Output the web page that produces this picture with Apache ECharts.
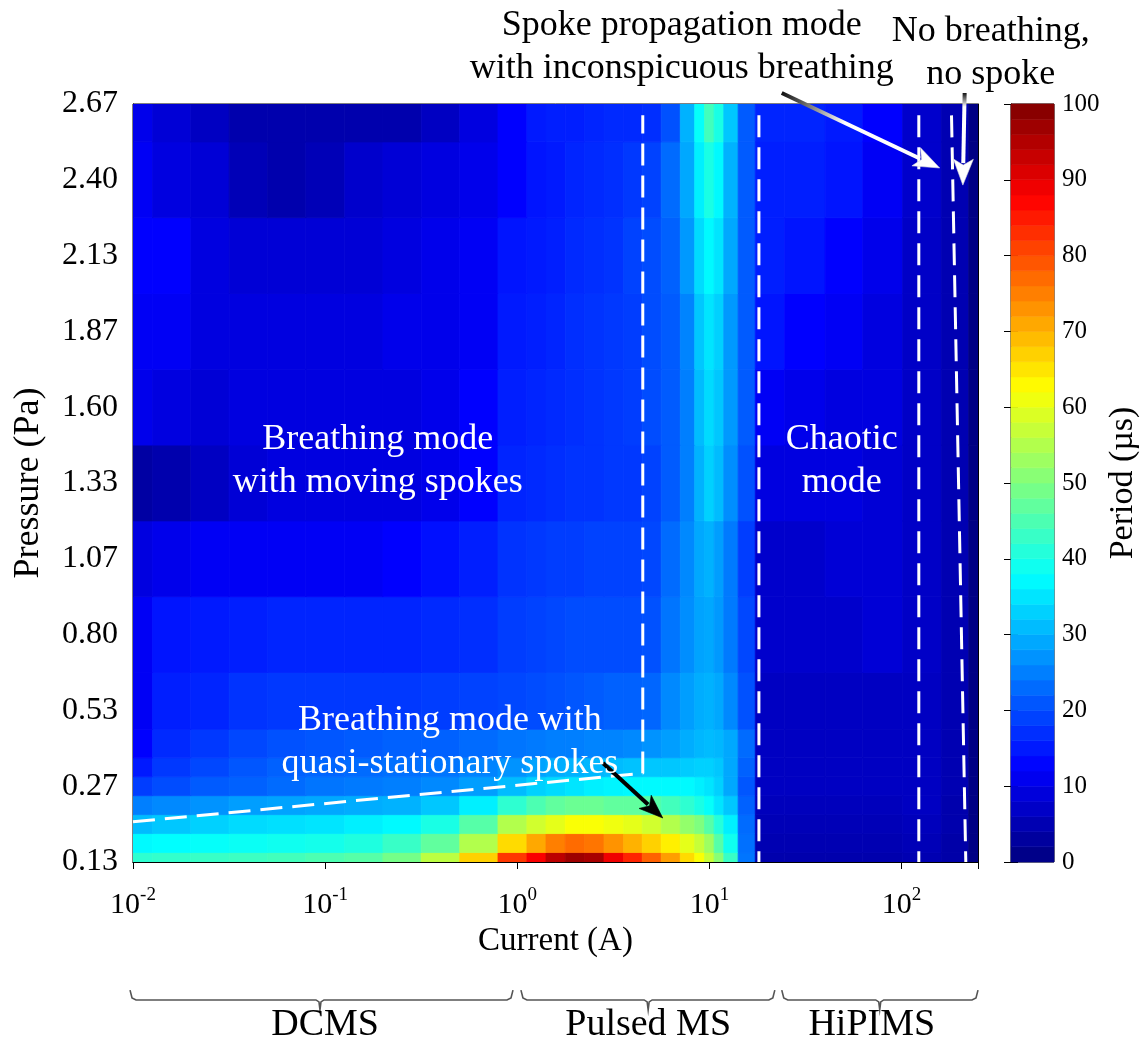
<!DOCTYPE html>
<html><head><meta charset="utf-8">
<script src="https://cdn.jsdelivr.net/npm/echarts@6/dist/echarts.min.js"></script>
<style>html,body{margin:0;padding:0;background:#fff}#c{width:1148px;height:1042px}</style>
</head><body><div id="c"></div>
<script>
// ---------------- data ----------------
// current sample columns (A)
const currents = [0.01, 0.016, 0.025, 0.04, 0.063, 0.1, 0.16, 0.25, 0.4, 0.63, 1, 1.26, 1.58, 2, 2.5, 3.2, 4, 5, 6.3, 7.9, 8.9, 10, 11.2, 12.6, 15.8, 19, 32, 50, 79, 130, 200, 250];
// pressure category labels (Pa), evenly spaced on the axis
const pressureLabels = ['0.13', '0.27', '0.53', '0.80', '1.07', '1.33', '1.60', '1.87', '2.13', '2.40', '2.67'];
// row positions (in pressure-category units) at which the period was read
const rowPos = [0, 0.25, 0.5, 0.75, 1, 1.25, 1.5, 2, 3, 4, 5, 6, 7, 8, 9, 10];
// period (µs) read per row, one value per current column
const period_p000 = [42, 42.5, 43, 43.5, 44, 45, 46, 49, 56, 67, 82, 88, 94, 97, 96, 89, 84, 78, 72, 66, 62, 57, 51, 43, 24, 4.5, 4.5, 4.5, 4.5, 5, 4, 0.5];
const period_p025 = [37, 37.5, 38, 38.5, 39, 39.5, 40.5, 43, 47, 55, 66, 71, 75, 77, 76, 73, 70, 67, 64, 60, 57, 53, 46, 39, 23.5, 5, 5, 5, 5, 5.5, 4, 0.5];
const period_p050 = [31, 32, 33, 34, 34.5, 35, 36, 37, 40, 46, 55, 58, 60, 62, 62, 61, 60, 58, 55, 52, 50, 46, 41, 36, 23, 5.5, 5.5, 5.5, 5.5, 6, 4.5, 0.5];
const period_p075 = [25, 26, 27, 28, 28.5, 29, 29.5, 30, 32, 36, 42, 45, 47, 48, 48, 47, 47, 46, 44, 42, 40, 38, 35, 32, 22, 6, 6, 6, 6, 6.5, 4.5, 0.5];
const period_p100 = [18.5, 20, 21.5, 22, 23, 24, 24.5, 25, 26, 28, 31, 33, 34, 35, 36, 36.5, 37, 37, 37, 37, 36, 35, 33, 29, 21, 6.5, 6.5, 6.5, 6.5, 6.5, 5, 0.5];
const period_p125 = [15, 18, 19.5, 21, 22, 22.5, 23, 23.5, 24, 25.5, 27, 28.5, 29.5, 30, 30.5, 31, 31.5, 32, 32, 32.5, 33, 33, 32, 29, 22, 6.5, 6.5, 6.5, 6.5, 6.5, 5, 0.5];
const period_p150 = [12.5, 16.5, 18, 19.5, 20.5, 21, 21.5, 22, 22, 23, 24, 24.5, 25, 25, 25.5, 25.5, 26, 27, 28, 29.5, 30.5, 31, 30.5, 29, 23, 6.5, 6.5, 6.5, 6.5, 6.5, 5, 0.5];
const period_p200 = [11.5, 15.5, 16, 17.5, 18, 18, 18, 18, 18.5, 19, 19.5, 20, 20.5, 21, 21.5, 22, 22, 22.5, 26, 28, 29.5, 30, 29, 26, 20.5, 6.5, 6.5, 6.5, 6.5, 6.5, 5, 0.5];
const period_p300 = [11.5, 14.5, 15, 15.5, 16, 16, 16, 16, 16.5, 17, 18.5, 19, 19.5, 20, 20, 20, 20, 20.5, 24, 26.5, 28.5, 29, 27.5, 24.5, 19.5, 7.5, 7.5, 7.5, 8.5, 7, 5, 0.5];
const period_p400 = [9.5, 10.5, 11.5, 11.5, 11.5, 11.5, 11.5, 12.5, 14, 15.5, 17.5, 18, 18.5, 18.5, 19, 19, 19, 19.5, 23, 26, 29, 30, 28, 24.5, 18.5, 7.5, 7.5, 8.5, 8.5, 7, 5, 0.5];
const period_p500 = [3.5, 4.5, 6.5, 8.5, 9.5, 9.5, 9.5, 9.5, 10.5, 12.5, 16, 16.5, 17, 17.5, 17.5, 18, 18, 19, 21.5, 25, 30, 33, 31, 26.5, 20.5, 9.5, 9.5, 9.5, 8.5, 7, 5, 0.5];
const period_p600 = [10.5, 9.5, 8.5, 9.5, 9.5, 9.5, 9.5, 9.5, 10.5, 12.5, 15.5, 16, 16.5, 17, 17.5, 18, 18.5, 20, 21.5, 25, 31, 34, 32, 27.5, 21.5, 11.5, 10.5, 9.5, 9.5, 7, 5, 0.5];
const period_p700 = [11.5, 11.5, 9.5, 9.5, 9.5, 9.5, 9.5, 10.5, 10.5, 11.5, 15, 15.5, 16, 17, 17.5, 18, 18.5, 20, 21.5, 25.5, 32, 35, 33, 27.5, 21.5, 14.5, 12.5, 11.5, 9.5, 7, 5, 0.5];
const period_p800 = [12.5, 12.5, 9.5, 8.5, 8.5, 8.5, 8.5, 9.5, 10.5, 11.5, 14.5, 15, 15.5, 16.5, 17, 17.5, 19, 20, 22, 27.5, 34, 37, 35, 29, 21.5, 15.5, 14.5, 12.5, 10.5, 7, 5, 0.5];
const period_p900 = [11.5, 9.5, 8.5, 5.5, 4.5, 5.5, 7.5, 8.5, 9.5, 10.5, 12.5, 14.5, 15, 16, 16.5, 17, 18, 19, 23, 29, 36, 40, 37, 30, 21.5, 15.5, 15.5, 14.5, 11.5, 7.5, 5, 0.5];
const period_p1000 = [10.5, 8.5, 6.5, 4.5, 4.5, 4.5, 4.5, 4.5, 6.5, 9.5, 12.5, 15, 15.5, 15.5, 16, 16.5, 16.5, 17, 20.5, 30, 38, 44, 40, 32, 21.5, 16, 16, 15, 12.5, 7.5, 5, 0.5];
const periodRows = [period_p000, period_p025, period_p050, period_p075, period_p100, period_p125, period_p150, period_p200, period_p300, period_p400, period_p500, period_p600, period_p700, period_p800, period_p900, period_p1000];
// colour-bar level boundaries (µs)
const colorbarLevels = [0, 2, 4, 6, 8, 10, 12, 14, 16, 18, 20, 22, 24, 26, 28, 30, 32, 34, 36, 38, 40, 42, 44, 46, 48, 50, 52, 54, 56, 58, 60, 62, 64, 66, 68, 70, 72, 74, 76, 78, 80, 82, 84, 86, 88, 90, 92, 94, 96, 98, 100];

// regime boundaries, [current (A), pressure-category position]
const boundaryQuasi = [[0.01, 0.53], [4.5, 1.17], [4.5, 9.85]];
const boundaryPulsed = [[18.1, 9.85], [18.1, 0]];
const boundaryHipims = [[123, 9.85], [123, 0]];
const boundaryNoSpoke = [[182, 9.85], [216, 0]];

// annotations (data-space anchors)
const textNotes = [
  { text: 'Breathing mode\nwith moving spokes', at: [0.188, 5.29], color: '#fff', size: 36 },
  { text: 'Breathing mode with\nquasi-stationary spokes', at: [0.446, 1.58], color: '#fff', size: 36 },
  { text: 'Chaotic\nmode', at: [48.9, 5.29], color: '#fff', size: 36 },
  { text: 'Spoke propagation mode\nwith inconspicuous breathing', at: [7.18, 10.75], color: '#000', size: 36 },
  { text: 'No breathing,\nno spoke', at: [291, 10.67], color: '#000', size: 36 },
  { text: 'DCMS', at: [0.1, -2.15], color: '#000', size: 38 },
  { text: 'Pulsed MS', at: [4.8, -2.15], color: '#000', size: 38 },
  { text: 'HiPIMS', at: [70, -2.15], color: '#000', size: 38 }
];
const arrows = [
  { from: [2.79, 1.306], to: [5.72, 0.58], kind: 'black' },
  { from: [23.8, 10.145], to: [158, 9.156], kind: 'white' },
  { from: [213, 10.145], to: [208.5, 8.93], kind: 'whiteV' }
];
const brackets = [
  { from: 0.00965, to: 0.95, mid: 0.094 },
  { from: 1.045, to: 21.9, mid: 4.8 },
  { from: 23.8, to: 250, mid: 77 }
];

// ---------------- chart ----------------
const X_MIN = 0.01, X_MAX = 250, Y_MIN = 0, Y_MAX = 10;
const SERIF = "'Liberation Serif', 'Times New Roman', serif";
const jet = ['#00007F', '#0000FF', '#007FFF', '#00FFFF', '#7FFF7F', '#FFFF00', '#FF7F00', '#FF0000', '#7F0000'];

const contourData = [];
periodRows.forEach((row, r) => row.forEach((v, c) => contourData.push([currents[c], rowPos[r], v, c, r])));
const cbarData = [];
for (let i = 0; i < colorbarLevels.length - 1; i++) {
  cbarData.push([0.5, colorbarLevels[i], (colorbarLevels[i] + colorbarLevels[i + 1]) / 2, colorbarLevels[i + 1]]);
}

function renderCell(params, api) {
  const c = api.value(3), r = api.value(4);
  const n = currents.length, m = rowPos.length;
  const xl = c === 0 ? X_MIN : Math.sqrt(currents[c - 1] * currents[c]);
  const xr = c === n - 1 ? X_MAX : Math.sqrt(currents[c] * currents[c + 1]);
  const yb = r === 0 ? Y_MIN : (rowPos[r - 1] + rowPos[r]) / 2;
  const yt = r === m - 1 ? Y_MAX : (rowPos[r] + rowPos[r + 1]) / 2;
  const p1 = api.coord([xl, yt]), p2 = api.coord([xr, yb]);
  const col = api.visual('color');
  return { type: 'rect', shape: { x: p1[0], y: p1[1], width: p2[0] - p1[0], height: p2[1] - p1[1] },
    style: { fill: col, stroke: col, lineWidth: 0.8 } };
}
function renderCbar(params, api) {
  const p1 = api.coord([0, api.value(3)]), p2 = api.coord([1, api.value(1)]);
  const col = api.visual('color');
  return { type: 'rect', shape: { x: p1[0], y: p1[1], width: p2[0] - p1[0], height: p2[1] - p1[1] },
    style: { fill: col, stroke: col, lineWidth: 0.6 } };
}
function renderText(params, api) {
  const t = textNotes[api.value(2)];
  const p = api.coord([api.value(0), api.value(1)]);
  return { type: 'text', x: p[0], y: p[1],
    style: { text: t.text, fill: t.color, font: t.size + 'px ' + SERIF, align: 'center', verticalAlign: 'middle', lineHeight: 43 } };
}
function renderArrow(params, api) {
  const a = arrows[api.value(4)];
  const p1 = api.coord([api.value(0), api.value(1)]), p2 = api.coord([api.value(2), api.value(3)]);
  const dx = p2[0] - p1[0], dy = p2[1] - p1[1], len = Math.hypot(dx, dy);
  const ux = dx / len, uy = dy / len, nx = -uy, ny = ux;
  const L = a.kind === 'black' ? 24 : 26, W = a.kind === 'black' ? 9 : 10;
  const bx = p2[0] - ux * L, by = p2[1] - uy * L;
  let stroke, fill;
  if (a.kind === 'black') { stroke = '#000'; fill = '#000'; }
  else {
    const cut = a.kind === 'white' ? 0.4 : 0.15;
    stroke = { type: 'linear', x: p1[0], y: p1[1], x2: p2[0], y2: p2[1], global: true,
      colorStops: [{ offset: 0, color: '#111' }, { offset: cut, color: '#ffffff' }, { offset: 1, color: '#ffffff' }] };
    fill = '#fff';
  }
  return { type: 'group', children: [
    { type: 'line', shape: { x1: p1[0], y1: p1[1], x2: bx + ux * 4, y2: by + uy * 4 }, style: { stroke: stroke, lineWidth: 4 } },
    { type: 'polygon', shape: { points: [[p2[0], p2[1]], [bx + nx * W, by + ny * W], [bx + ux * 6, by + uy * 6], [bx - nx * W, by - ny * W]] },
      style: { fill: fill, stroke: a.kind === 'black' ? '#000' : '#ddd', lineWidth: 0.6 } }
  ] };
}
function renderBracket(params, api) {
  const b = brackets[api.value(3)];
  const yTop = api.coord([b.from, -1.69])[1], yMid = api.coord([b.from, -1.82])[1], yBot = api.coord([b.from, -1.95])[1];
  const x0 = api.coord([b.from, 0])[0], x1 = api.coord([b.to, 0])[0], xc = api.coord([b.mid, 0])[0];
  return { type: 'polyline', shape: { points: [[x0, yTop], [x0 + 2, yMid - 2], [x0 + 6, yMid], [xc - 4, yMid], [xc - 1, yMid + 2], [xc, yBot], [xc + 1, yMid + 2], [xc + 4, yMid], [x1 - 6, yMid], [x1 - 2, yMid - 2], [x1, yTop]] },
    style: { stroke: '#555', lineWidth: 1.6, fill: null } };
}

const dashStyle = { color: '#fff', width: 3, type: [22, 10] };
function boundarySeries(pts) {
  return { type: 'line', xAxisIndex: 0, yAxisIndex: 0, data: pts, symbol: 'none', silent: true, z: 3,
    lineStyle: dashStyle, animation: false };
}

const chart = echarts.init(document.getElementById('c'), null, { renderer: 'canvas' });
const axisTxt = { color: '#000', fontFamily: SERIF };
chart.setOption({
  animation: false,
  backgroundColor: '#fff',
  grid: [
    { left: 133, top: 104, width: 845, height: 758, show: true, borderColor: '#000', borderWidth: 1, backgroundColor: 'transparent' },
    { left: 1011, top: 104, width: 43, height: 758, show: true, borderColor: '#000', borderWidth: 1, backgroundColor: 'transparent' }
  ],
  visualMap: { type: 'continuous', show: false, min: 0, max: 100, dimension: 2, seriesIndex: [0, 1], inRange: { color: jet } },
  xAxis: [
    { gridIndex: 0, type: 'log', logBase: 10, min: X_MIN, max: X_MAX, position: 'bottom',
      axisLine: { show: true, lineStyle: { color: '#000', width: 1 } },
      axisTick: { show: true, inside: true, length: 7, lineStyle: { color: '#000' } },
      minorTick: { show: false }, splitLine: { show: false },
      axisLabel: { margin: 24, showMaxLabel: false,
        formatter: function (v) { const e = Math.log10(v); return Math.abs(e - Math.round(e)) < 1e-6 ? '{b|10}{s|' + Math.round(e) + '}' : ''; },
        rich: { b: { fontSize: 30, fontFamily: SERIF, color: '#000', lineHeight: 34, verticalAlign: 'bottom' },
                s: { fontSize: 19, fontFamily: SERIF, color: '#000', lineHeight: 34, verticalAlign: 'top', padding: [0, 0, 12, 0] } } },
      name: 'Current (A)', nameLocation: 'middle', nameGap: 51, nameTextStyle: Object.assign({ fontSize: 33 }, axisTxt) },
    { gridIndex: 0, type: 'log', logBase: 10, min: X_MIN, max: X_MAX, position: 'top',
      axisLine: { show: true, lineStyle: { color: '#000', width: 1 } },
      axisTick: { show: true, inside: true, length: 7, lineStyle: { color: '#000' } },
      axisLabel: { show: false }, splitLine: { show: false } },
    { gridIndex: 1, type: 'value', min: 0, max: 1, show: false }
  ],
  yAxis: [
    { gridIndex: 0, type: 'value', min: Y_MIN, max: Y_MAX, interval: 1,
      axisLine: { show: true, lineStyle: { color: '#000', width: 1 } },
      axisTick: { show: true, inside: true, length: 7, lineStyle: { color: '#000' } },
      splitLine: { show: false },
      axisLabel: Object.assign({ fontSize: 32, margin: 15, formatter: function (v) { return pressureLabels[Math.round(v)] || ''; } }, axisTxt),
      name: 'Pressure (Pa)', nameLocation: 'middle', nameRotate: 90, nameGap: 86, nameTextStyle: Object.assign({ fontSize: 36 }, axisTxt) },
    { gridIndex: 0, type: 'value', min: Y_MIN, max: Y_MAX, interval: 1, position: 'right',
      axisLine: { show: true, lineStyle: { color: '#000', width: 1 } },
      axisTick: { show: true, inside: true, length: 7, lineStyle: { color: '#000' } },
      axisLabel: { show: false }, splitLine: { show: false } },
    { gridIndex: 1, type: 'value', min: 0, max: 100, interval: 10, position: 'right',
      axisLine: { show: true, lineStyle: { color: '#000', width: 1 } },
      axisTick: { show: true, inside: true, length: 7, lineStyle: { color: '#000' } },
      splitLine: { show: false },
      axisLabel: Object.assign({ fontSize: 25, margin: 8 }, axisTxt),
      name: 'Period (µs)', nameLocation: 'middle', nameRotate: 90, nameGap: 52, nameTextStyle: Object.assign({ fontSize: 34 }, axisTxt) },
    { gridIndex: 1, type: 'value', min: 0, max: 100, interval: 10, position: 'left',
      axisLine: { show: false }, axisTick: { show: true, inside: true, length: 7, lineStyle: { color: '#000' } },
      axisLabel: { show: false }, splitLine: { show: false } }
  ],
  series: [
    { type: 'custom', name: 'period', xAxisIndex: 0, yAxisIndex: 0, data: contourData, renderItem: renderCell,
      encode: { x: 0, y: 1 }, clip: true, silent: true, z: 1 },
    { type: 'custom', name: 'colorbar', xAxisIndex: 2, yAxisIndex: 2, data: cbarData, renderItem: renderCbar,
      encode: { x: 0, y: 1 }, silent: true, z: 1 },
    boundarySeries(boundaryQuasi),
    boundarySeries(boundaryPulsed),
    boundarySeries(boundaryHipims),
    boundarySeries(boundaryNoSpoke),
    { type: 'custom', xAxisIndex: 0, yAxisIndex: 0, data: arrows.map((a, i) => [a.from[0], a.from[1], a.to[0], a.to[1], i]),
      renderItem: renderArrow, encode: { x: 0, y: 1 }, clip: false, silent: true, z: 6 },
    { type: 'custom', xAxisIndex: 0, yAxisIndex: 0, data: brackets.map((b, i) => [b.from, -1.82, 0, i]),
      renderItem: renderBracket, encode: { x: 0, y: 1 }, clip: false, silent: true, z: 6 },
    { type: 'custom', xAxisIndex: 0, yAxisIndex: 0, data: textNotes.map((t, i) => [t.at[0], t.at[1], i]),
      renderItem: renderText, encode: { x: 0, y: 1 }, clip: false, silent: true, z: 7 }
  ]
});
</script></body></html>
